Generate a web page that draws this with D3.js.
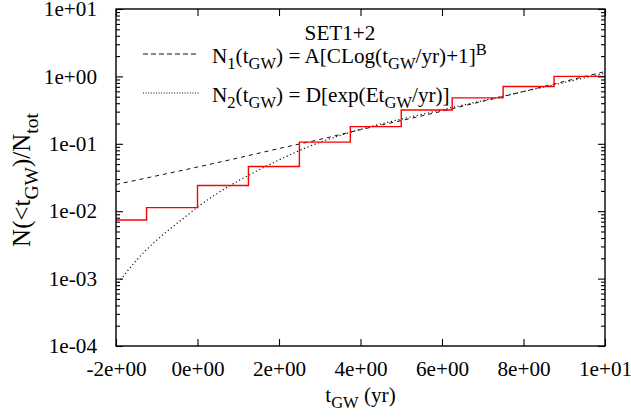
<!DOCTYPE html>
<html>
<head>
<meta charset="utf-8">
<script src="https://cdn.jsdelivr.net/npm/d3@7"></script>
<style>
  html, body { margin: 0; padding: 0; background: #fff; }
  svg { display: block; }
  text { font-family: "Liberation Serif", "Times New Roman", "DejaVu Serif", serif; fill: #000; }
</style>
</head>
<body>
<svg id="chart" width="631" height="419"></svg>
<script>
// Cumulative fraction of systems with merger time below t_GW (log10 yr bins)
const binEdges = [-2, -1.25, 0, 1.25, 2.5, 3.75, 5, 6.25, 7.5, 8.75, 10];
const cumFrac  = [0.0074, 0.0113, 0.024, 0.046, 0.106, 0.18, 0.318, 0.48, 0.71, 1.0];

// Fit N1 = A[C Log(t)+1]^B, sampled along log10 t
const fit1X = [-2, -1, 0, 1, 2, 3, 4, 5, 6, 7, 8, 9, 10];
const fit1Y = [0.0249, 0.0335, 0.0452, 0.0617, 0.0851, 0.116, 0.162, 0.221, 0.305, 0.427, 0.596, 0.841, 1.18];

// Fit N2 = D[exp(E t)], sampled along log10 t
const fit2X = [-2, -1.75, -1.5, -1.25, -1, -0.75, -0.5, -0.25, 0, 0.5, 1, 1.5, 2, 2.5, 3, 3.5, 4, 4.5, 5, 6, 7, 8, 9, 10];
const fit2Y = [0.000776, 0.00123, 0.00186, 0.00269, 0.00372, 0.00501, 0.00661, 0.00871, 0.0115, 0.0186, 0.0282, 0.0407,
               0.0575, 0.0794, 0.105, 0.133, 0.164, 0.197, 0.232, 0.320, 0.437, 0.596, 0.813, 1.12];

// Axis ticks and their labels
const xTicks = [-2, 0, 2, 4, 6, 8, 10];
const xTickLabels = ["-2e+00", "0e+00", "2e+00", "4e+00", "6e+00", "8e+00", "1e+01"];
const yTicks = [1e-4, 1e-3, 1e-2, 1e-1, 1, 10];
const yTickLabels = ["1e-04", "1e-03", "1e-02", "1e-01", "1e+00", "1e+01"];

const svg = d3.select("#chart");
const plot = { left: 116, right: 605, top: 9, bottom: 346 };
const fontSize = 21.2;

const x = d3.scaleLinear().domain([-2, 10]).range([plot.left, plot.right]);
const y = d3.scaleLog().domain([1e-4, 10]).range([plot.bottom, plot.top]);

svg.append("defs").append("clipPath").attr("id", "plotClip")
  .append("rect")
  .attr("x", plot.left).attr("y", plot.top)
  .attr("width", plot.right - plot.left).attr("height", plot.bottom - plot.top);

const inner = svg.append("g").attr("clip-path", "url(#plotClip)");

// Fitted curves
const fitLine = d3.line().x(d => x(d[0])).y(d => y(d[1])).curve(d3.curveMonotoneX);
inner.append("path")
  .datum(fit1X.map((v, i) => [v, fit1Y[i]]))
  .attr("d", fitLine)
  .attr("fill", "none").attr("stroke", "#111").attr("stroke-width", 1)
  .attr("stroke-dasharray", "4,4");
inner.append("path")
  .datum(fit2X.map((v, i) => [v, fit2Y[i]]))
  .attr("d", fitLine)
  .attr("fill", "none").attr("stroke", "#111").attr("stroke-width", 1.2)
  .attr("stroke-dasharray", "1.2,2.6");

// Cumulative histogram as steps
const stepPts = cumFrac.map((v, i) => [binEdges[i], v]);
stepPts.push([binEdges[binEdges.length - 1], cumFrac[cumFrac.length - 1]]);
inner.append("path")
  .datum(stepPts)
  .attr("d", d3.line().x(d => x(d[0])).y(d => y(d[1])).curve(d3.curveStepAfter))
  .attr("fill", "none").attr("stroke", "#ff0000").attr("stroke-width", 1.4);

// Axes: ticks point inward on all four sides
const majorLen = 7, minorLen = 4;

const bottomAxis = d3.axisBottom(x).tickValues(xTicks).tickSizeInner(-majorLen).tickSizeOuter(0)
  .tickFormat((d, i) => xTickLabels[i]).tickPadding(majorLen + 8);
const gx = svg.append("g").attr("transform", `translate(0,${plot.bottom})`).call(bottomAxis);
const topAxis = d3.axisTop(x).tickValues(xTicks).tickSizeInner(-majorLen).tickSizeOuter(0).tickFormat("");
const gxt = svg.append("g").attr("transform", `translate(0,${plot.top})`).call(topAxis);

const minorY = [];
for (let e = -4; e < 1; e++) for (let k = 2; k <= 9; k++) minorY.push(k * Math.pow(10, e));

const leftAxis = d3.axisLeft(y).tickValues(yTicks).tickSizeInner(-majorLen).tickSizeOuter(0)
  .tickFormat((d, i) => yTickLabels[i]).tickPadding(majorLen + 12);
const gy = svg.append("g").attr("transform", `translate(${plot.left},0)`).call(leftAxis);
const leftMinor = d3.axisLeft(y).tickValues(minorY).tickSizeInner(-minorLen).tickSizeOuter(0).tickFormat("");
const gym = svg.append("g").attr("transform", `translate(${plot.left},0)`).call(leftMinor);
const rightAxis = d3.axisRight(y).tickValues(yTicks).tickSizeInner(-majorLen).tickSizeOuter(0).tickFormat("");
const gyr = svg.append("g").attr("transform", `translate(${plot.right},0)`).call(rightAxis);
const rightMinor = d3.axisRight(y).tickValues(minorY).tickSizeInner(-minorLen).tickSizeOuter(0).tickFormat("");
const gyrm = svg.append("g").attr("transform", `translate(${plot.right},0)`).call(rightMinor);

[gx, gxt, gy, gym, gyr, gyrm].forEach(g => {
  g.attr("font-family", null);
  g.select(".domain").remove();
  g.selectAll("line").attr("stroke", "#000").attr("stroke-width", 1.1);
  g.selectAll("text").attr("font-size", fontSize).attr("fill", "#000");
});

// Frame
svg.append("rect")
  .attr("x", plot.left).attr("y", plot.top)
  .attr("width", plot.right - plot.left).attr("height", plot.bottom - plot.top)
  .attr("fill", "none").attr("stroke", "#000").attr("stroke-width", 1.4);

// Rich text helper: parts are [text, "n" | "sub" | "sup"]
function richText(sel, parts, size) {
  let shift = 0;
  parts.forEach(([t, kind]) => {
    const target = kind === "sub" ? size * 0.3 : kind === "sup" ? -size * 0.4 : 0;
    sel.append("tspan")
      .attr("dy", target - shift)
      .attr("font-size", kind === "n" ? size : size * 0.78)
      .text(t);
    shift = target;
  });
}

// Axis titles
const xTitle = svg.append("text")
  .attr("x", (plot.left + plot.right) / 2).attr("y", 402)
  .attr("text-anchor", "middle").attr("font-size", fontSize);
richText(xTitle, [["t", "n"], ["GW", "sub"], [" (yr)", "n"]], fontSize);

const yTitleSize = 25;
const yTitle = svg.append("text")
  .attr("transform", `translate(30,180) rotate(-90)`)
  .attr("text-anchor", "middle").attr("font-size", yTitleSize);
richText(yTitle, [["N(<t", "n"], ["GW", "sub"], [")/N", "n"], ["tot", "sub"]], yTitleSize);

// Key
const key = svg.append("g");
key.append("text").attr("x", 340).attr("y", 40).attr("text-anchor", "middle")
  .attr("font-size", fontSize).text("SET1+2");

const keyRows = [
  { y: 54, dash: "5,3", width: 1,
    parts: [["N", "n"], ["1", "sub"], ["(t", "n"], ["GW", "sub"], [") = A[CLog(t", "n"], ["GW", "sub"], ["/yr)+1]", "n"], ["B", "sup"]] },
  { y: 93, dash: "1,1.6", width: 1.1,
    parts: [["N", "n"], ["2", "sub"], ["(t", "n"], ["GW", "sub"], [") = D[exp(Et", "n"], ["GW", "sub"], ["/yr)]", "n"]] }
];
keyRows.forEach(r => {
  key.append("line").attr("x1", 143).attr("x2", 199).attr("y1", r.y).attr("y2", r.y)
    .attr("stroke", "#111").attr("stroke-width", r.width).attr("stroke-dasharray", r.dash);
  const t = key.append("text").attr("x", 212).attr("y", r.y + 9).attr("font-size", fontSize);
  richText(t, r.parts, fontSize);
});
</script>
</body>
</html>
